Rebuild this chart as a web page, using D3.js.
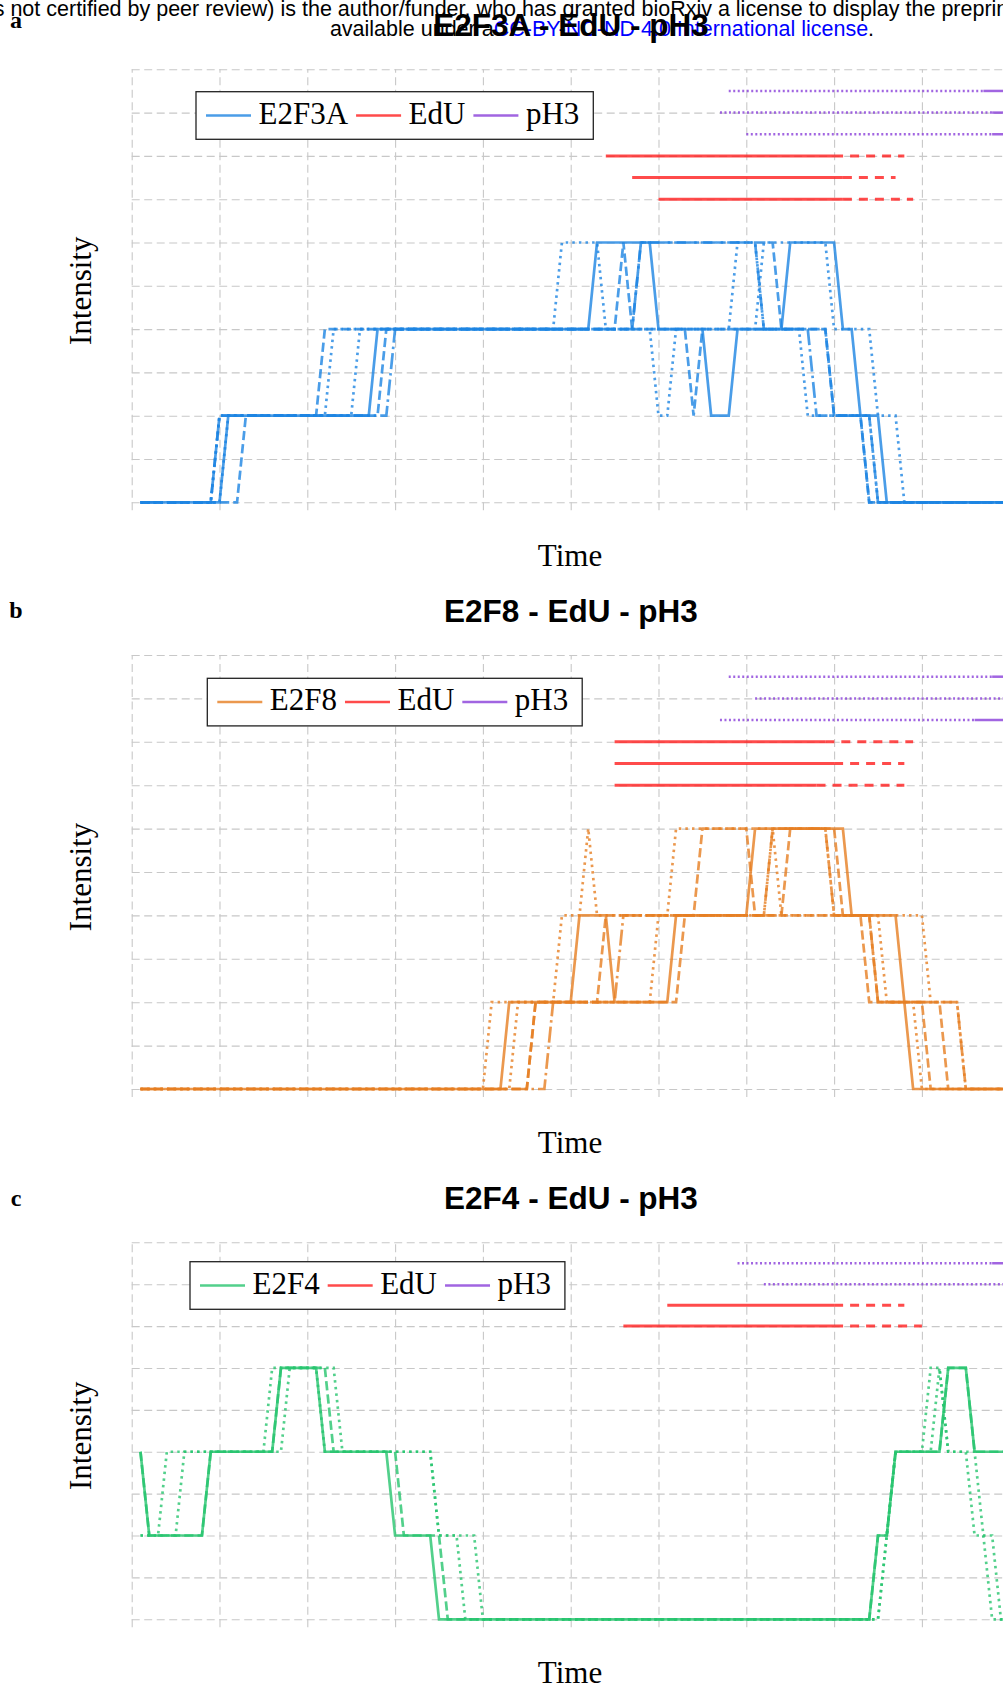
<!DOCTYPE html>
<html>
<head>
<meta charset="utf-8">
<script src="https://cdn.jsdelivr.net/npm/d3@7"></script>
<style>
  body { margin: 0; background: #fff; }
  svg { display: block; }
</style>
</head>
<body>
<svg id="fig" width="1003" height="1684"></svg>
<script>
// ---- data (time in frames, intensity in grid levels) ----
var timeTicks = [0, 10, 20, 30, 40, 50, 60, 70, 80, 90];

// E2F3A replicates: [time, level] vertices
var e2f3aTraces = [
    [[1,0],[10,0],[11,2],[27,2],[28,4],[52,4],[53,6],[59,6],[60,4],[65,4],[66,2],[68,2],[69,4],[74,4],[75,6],[80,6],[81,4],[82,4],[83,2],[85,2],[86,0],[100,0]],
    [[1,0],[12,0],[13,2],[28,2],[29,4],[55,4],[56,6],[57,4],[58,6],[73,6],[74,4],[79,4],[80,2],[83,2],[84,0],[100,0]],
    [[1,0],[9,0],[10,2],[22,2],[23,4],[48,4],[49,6],[53,6],[54,4],[59,4],[60,2],[61,2],[62,4],[71,4],[72,6],[79,6],[80,4],[84,4],[85,2],[87,2],[88,0],[100,0]],
    [[1,0],[9,0],[10,2],[29,2],[30,4],[57,4],[58,6],[71,6],[72,4],[77,4],[78,2],[84,2],[85,0],[100,0]],
    [[1,0],[10,0],[11,2],[25,2],[26,4],[68,4],[69,6],[71,6],[72,4],[76,4],[77,2],[84,2],[85,0],[100,0]],
    [[1,0],[9,0],[10,2],[21,2],[22,4],[63,4],[64,2],[65,4],[79,4],[80,2],[83,2],[84,0],[100,0]]
];
var e2f3aEdU = [[54,80,88],[57,81,87],[60,81,89]];      // start, end of solid, end of dashed
var e2f3aEdULevels = [8, 7.5, 7];
var e2f3aPH3 = [[68,97,100],[67,98,100],[70,98,100]];   // start, end of dotted, end
var e2f3aPH3Levels = [9.5, 9, 8.5];

var e2f8Traces = [
    [[1,0],[42,0],[43,2],[50,2],[51,4],[54,4],[55,2],[61,2],[62,4],[70,4],[71,6],[81,6],[82,4],[87,4],[88,2],[89,0],[100,0]],
    [[1,0],[45,0],[46,2],[62,2],[63,4],[64,4],[65,6],[70,6],[71,4],[74,4],[75,6],[80,6],[81,4],[83,4],[84,2],[92,2],[93,0],[100,0]],
    [[1,0],[40,0],[41,2],[48,2],[49,4],[51,4],[52,6],[53,4],[61,4],[62,6],[79,6],[80,4],[85,4],[86,2],[89,2],[90,0],[100,0]],
    [[1,0],[47,0],[48,2],[55,2],[56,4],[72,4],[73,6],[79,6],[80,4],[84,4],[85,2],[94,2],[95,0],[100,0]],
    [[1,0],[43,0],[44,2],[59,2],[60,4],[72,4],[73,6],[74,4],[90,4],[91,2],[94,2],[95,0],[100,0]],
    [[1,0],[45,0],[46,2],[53,2],[54,4],[84,4],[85,2],[90,2],[91,0],[100,0]]
];
var e2f8EdU = [[55,79,89],[55,80,88],[55,78,88]];
var e2f8EdULevels = [8, 7.5, 7];
var e2f8PH3 = [[68,98,100],[71,100,100],[67,96,100]];
var e2f8PH3Levels = [9.5, 9, 8.5];

var e2f4Traces = [
    [[1,4],[2,2],[8,2],[9,4],[16,4],[17,6],[21,6],[22,4],[29,4],[30,2],[34,2],[35,0],[84,0],[85,2],[86,2],[87,4],[92,4],[93,6],[95,6],[96,4],[100,4]],
    [[1,4],[2,2],[8,2],[9,4],[16,4],[17,6],[22,6],[23,4],[30,4],[31,2],[35,2],[36,0],[84,0],[85,2],[86,2],[87,4],[92,4],[93,6],[95,6],[96,4],[100,4]],
    [[1,2],[3,2],[4,4],[15,4],[16,6],[21,6],[22,4],[34,4],[35,2],[37,2],[38,0],[85,0],[86,2],[87,4],[90,4],[91,6],[92,6],[93,4],[95,4],[96,2],[97,2],[98,0],[100,0]],
    [[1,2],[5,2],[6,4],[17,4],[18,6],[23,6],[24,4],[34,4],[35,2],[39,2],[40,0],[85,0],[86,2],[87,4],[91,4],[92,6],[93,4],[96,4],[97,2],[98,2],[99,0],[100,0]]
];
var e2f4EdU = [[61,80,88],[56,80,90]];
var e2f4EdULevels = [7.5, 7];
var e2f4PH3 = [[69,98,100],[72,100,100]];
var e2f4PH3Levels = [8.5, 8];

// ---- styles ----
var svg = d3.select("#fig");
var serif = "'Liberation Serif', 'Times New Roman', serif";
var sans = "'Liberation Sans', Arial, sans-serif";
var x = d3.scaleLinear().domain([0,100]).range([131.7,1009.7]);

var dashes = { solid: null, dashed: "9.25,4", dotted: "2.5,4.1", dashdot: "16,4,2.5,4" };
var repStyle = d3.scaleOrdinal().domain(d3.range(6))
    .range(["solid","dashed","dotted","dashdot","dotted","dashed"]);
var e2f4Style = d3.scaleOrdinal().domain(d3.range(4))
    .range(["solid","dashed","dotted","dotted"]);

var edUColor = "#ff1e1e", ph3Color = "#8a3fd9";

// ---- header (preprint watermark) ----
svg.append("text")
    .attr("x", 501).attr("y", 16)
    .style("text-anchor","middle")
    .style("font-family", sans).style("font-size","21.5px")
    .text("s not certified by peer review) is the author/funder, who has granted bioRxiv a license to display the preprin");
var hdr = svg.append("text")
    .attr("x", 602).attr("y", 35.5)
    .style("text-anchor","middle")
    .style("font-family", sans).style("font-size","21.5px");
hdr.append("tspan").text("available under a");
hdr.append("tspan").attr("fill","#0000ff").text("CC-BY-NC-ND 4.0 International license");
hdr.append("tspan").text(".");

function drawPanel(p) {
    var g = svg.append("g");
    var y = d3.scaleLinear().domain([0,p.yMax]).range([p.bottom,p.top]);
    var line = d3.line().x(function(d) { return x(d[0]); }).y(function(d) { return y(d[1]); });

    // Grid
    var hg = g.append("g")
        .attr("transform","translate(" + x(0) + ",0)")
        .call(d3.axisLeft(y).ticks(p.yMax).tickSize(-(1003 - x(0))).tickFormat(""));
    var vg = g.append("g")
        .attr("transform","translate(0," + (p.bottom + 8) + ")")
        .call(d3.axisBottom(x).tickValues(timeTicks).tickSize(-(p.bottom + 8 - p.top)).tickFormat(""));
    [hg, vg].forEach(function(a) {
        a.select(".domain").remove();
        a.selectAll(".tick line")
            .attr("stroke","#c8c8c8")
            .attr("stroke-width",1.1)
            .attr("stroke-dasharray","8,4.5");
    });

    // pH3 rows: dotted, then solid
    p.ph3.forEach(function(r, i) {
        var lv = p.ph3Levels[i];
        g.append("path").attr("d", line([[r[0],lv],[r[1],lv]]))
            .attr("fill","none").attr("stroke",ph3Color).attr("stroke-opacity",0.8)
            .attr("stroke-width",2.5).attr("stroke-dasharray","2,2.5");
        if (r[2] > r[1]) {
            g.append("path").attr("d", line([[r[1],lv],[r[2],lv]]))
                .attr("fill","none").attr("stroke",ph3Color).attr("stroke-opacity",0.8)
                .attr("stroke-width",2.5);
        }
    });

    // EdU rows: solid, then dashed
    p.edu.forEach(function(r, i) {
        var lv = p.eduLevels[i];
        g.append("path").attr("d", line([[r[0],lv],[r[1],lv]]))
            .attr("fill","none").attr("stroke",edUColor).attr("stroke-opacity",0.8)
            .attr("stroke-width",3);
        g.append("path").attr("d", line([[r[1],lv],[r[2],lv]]))
            .attr("fill","none").attr("stroke",edUColor).attr("stroke-opacity",0.8)
            .attr("stroke-width",3).attr("stroke-dasharray","9,7");
    });

    // protein replicates
    g.selectAll("path.rep")
        .data(p.traces)
        .enter()
        .append("path")
            .attr("class","rep")
            .attr("d", line)
            .attr("fill","none")
            .attr("stroke", p.color)
            .attr("stroke-opacity",0.8)
            .attr("stroke-width",2.7)
            .attr("stroke-linejoin","miter")
            .attr("stroke-dasharray", function(d,i) { return dashes[p.style(i)]; });

    // Legend
    var lg = g.append("g");
    var box = lg.append("rect");
    var cx = p.legend[0] + 10;
    var cy = p.legend[1] + 23.8;
    [[p.name, p.color], ["EdU", edUColor], ["pH3", ph3Color]].forEach(function(it) {
        lg.append("line")
            .attr("x1",cx).attr("x2",cx + 45).attr("y1",cy).attr("y2",cy)
            .attr("stroke",it[1]).attr("stroke-opacity",0.8).attr("stroke-width",2.5);
        cx += 52.5;
        var t = lg.append("text")
            .attr("x",cx).attr("y",cy + 8)
            .style("font-family",serif).style("font-size","31px")
            .text(it[0]);
        cx += t.node().getComputedTextLength() + 8;
    });
    box.attr("x",p.legend[0]).attr("y",p.legend[1])
        .attr("width",cx - p.legend[0] + 6).attr("height",47.6)
        .attr("fill","#fff").attr("stroke","#222").attr("stroke-width",1.3);

    // Titles and axis labels
    g.append("text")
        .attr("x",571).attr("y",p.top - 33.5)
        .style("text-anchor","middle")
        .style("font-family",sans).style("font-weight","bold").style("font-size","31.5px")
        .text(p.name + " - EdU - pH3");
    g.append("text")
        .attr("x",16).attr("y",p.letterY)
        .style("text-anchor","middle")
        .style("font-family",serif).style("font-weight","bold").style("font-size","24px")
        .text(p.letter);
    g.append("text")
        .attr("x",570).attr("y",p.bottom + 63.5)
        .style("text-anchor","middle")
        .style("font-family",serif).style("font-size","31px")
        .text("Time");
    g.append("text")
        .attr("transform","rotate(-90)")
        .attr("x",-(p.top + p.bottom) / 2 - 5).attr("y",91)
        .style("text-anchor","middle")
        .style("font-family",serif).style("font-size","31px")
        .text("Intensity");
}

drawPanel({ letter:"a", letterY:28, name:"E2F3A", color:"#1d84e2", top:69.3, bottom:502.3, yMax:10,
    traces:e2f3aTraces, style:repStyle, edu:e2f3aEdU, eduLevels:e2f3aEdULevels,
    ph3:e2f3aPH3, ph3Levels:e2f3aPH3Levels, legend:[196,91.7] });
drawPanel({ letter:"b", letterY:618, name:"E2F8", color:"#e67e22", top:655, bottom:1089, yMax:10,
    traces:e2f8Traces, style:repStyle, edu:e2f8EdU, eduLevels:e2f8EdULevels,
    ph3:e2f8PH3, ph3Levels:e2f8PH3Levels, legend:[207.3,678.3] });
drawPanel({ letter:"c", letterY:1206, name:"E2F4", color:"#27c46e", top:1242.3, bottom:1619.3, yMax:9,
    traces:e2f4Traces, style:e2f4Style, edu:e2f4EdU, eduLevels:e2f4EdULevels,
    ph3:e2f4PH3, ph3Levels:e2f4PH3Levels, legend:[190,1261.7] });
</script>
</body>
</html>
